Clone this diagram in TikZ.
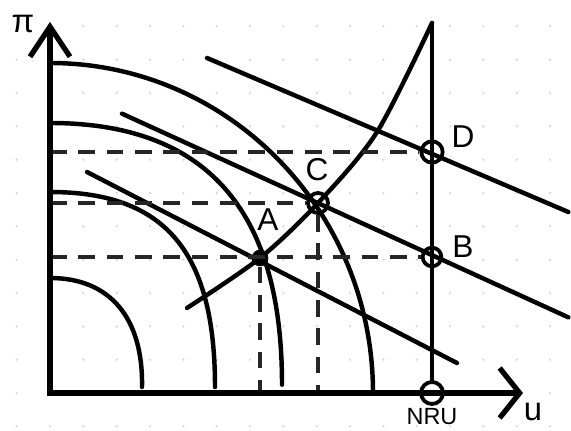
\documentclass[tikz,border=0pt]{standalone}
\usepackage{fontspec}
\setmainfont{Liberation Sans}
\usetikzlibrary{arrows.meta}
\tikzset{
  eje/.style   = {line width=4.5pt, black},
  curva/.style = {line width=3.8pt, black, line cap=round, line join=round},
  guia/.style  = {line width=2.7pt, black!85, dash pattern=on 0.5cm off 0.35cm},
  hueco/.style = {circle, draw, line width=3.2pt, inner sep=0pt, minimum size=#1},
  punto/.style = {circle, fill, inner sep=0pt, minimum size=0.5cm},
  letra/.style = {font=\fontsize{27}{30}\selectfont}
}

\begin{document}
\begin{tikzpicture}
  \useasboundingbox (-1.5,-1.11) rectangle (15.63,11.79);
  \foreach \i in {-1,...,15}{
    \foreach \j in {-1,...,11}{
      \fill[black!15] (\i,\j) circle (0.04);
    }
  }
  \coordinate (O) at (0,0);
  \coordinate (ytip) at (0,11.13);
  \coordinate (xtip) at (14.19,0);
  \coordinate (top) at (11.46,11.1);

  \node[punto] (A) at (6.30,4.05) {};
  \node[hueco=0.6cm] (C) at (8.04,5.70) {};
  \node[hueco=0.64cm] (D) at (11.46,7.23) {};
  \node[hueco=0.56cm] (B) at (11.46,4.08) {};
  \node[hueco=0.66cm] (NRU) at (11.46,0) {};

  \draw[curva] (0,9.9) arc[start angle=90, end angle=0, x radius=9.69, y radius=9.9];
  \draw[curva] (0,8.1) .. controls (5.5,8.1) and (6.96,4.5) .. (6.96,0.25);
  \draw[curva] (0,6.03) .. controls (3.47,6.03) and (4.95,4.22) .. (4.95,0.18);
  \draw[curva] (0,3.45) .. controls (1.81,3.45) and (2.8,2.24) .. (2.76,0.18);

  \coordinate (r1a) at (4.71,10.05);
  \coordinate (r1b) at (15.55,5.43);
  \coordinate (r2a) at (2.16,8.38);
  \coordinate (r2b) at (15.55,2.27);
  \coordinate (r3a) at (1.11,6.63);
  \coordinate (r3b) at (12.21,0.90);
  \draw[curva] (r1a) -- (r1b);
  \draw[curva] (r2a) -- (r2b);
  \draw[curva] (r3a) -- (r3b);

  \draw[curva] plot[smooth] coordinates {(4.11,2.55) (A.center) (C.center) (9.81,7.83) (top)};
  \draw[curva] (NRU) -- (top);

  \draw[guia] (O |- D) -- (D);
  \draw[guia] (O |- C) -- (C);
  \draw[guia] (O |- B) -- (B);
  \draw[guia] (A) -- (A |- O);
  \draw[guia] (C) -- (C |- O);

  \draw[eje, {Straight Barb[length=0.9cm,width=1.2cm]}-{Straight Barb[length=0.6cm,width=1.5cm]}] (ytip) -- (O) -- (xtip);

  \node[letra] (lA) at (6.54,5.19) {A};
  \node[letra] (lC) at (8.01,6.69) {C};
  \node[letra] (lD) at (12.39,7.68) {D};
  \node[letra] (lB) at (12.39,4.38) {B};
  \node[font=\fontsize{20}{22}\selectfont, inner sep=1pt] (lNRU) at (11.46,-0.72) {NRU};
  \node[font=\fontsize{28}{30}\selectfont] (lpi) at (-0.81,11.07) {π};
  \node[font=\fontsize{28}{30}\selectfont] (lu) at (14.49,-0.57) {u};
\end{tikzpicture}
\end{document}
